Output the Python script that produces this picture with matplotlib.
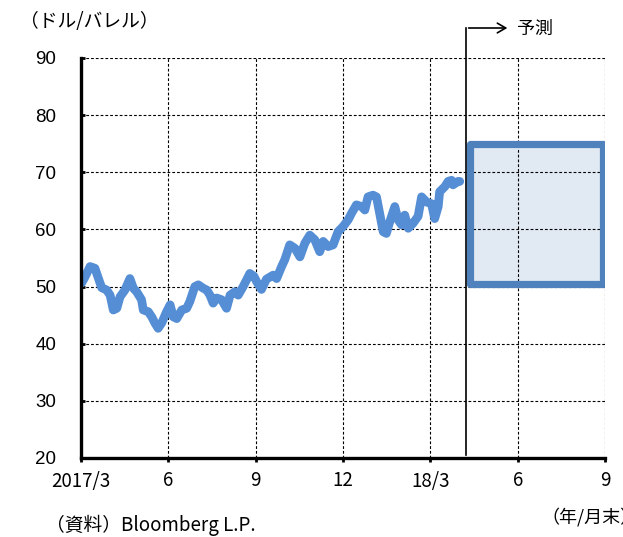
import matplotlib
matplotlib.use("Agg")
import matplotlib.pyplot as plt
from matplotlib.patches import Rectangle, FancyArrowPatch

# months since end of March 2017
months = [0.02, 0.14, 0.31, 0.48, 0.58, 0.71, 0.88, 1.00, 1.11, 1.23, 1.34, 1.51, 1.68, 1.80,
          1.91, 2.08, 2.14, 2.31, 2.43, 2.54, 2.65, 2.77, 2.94, 3.06, 3.17, 3.29, 3.46, 3.63,
          3.74, 3.91, 4.03, 4.20, 4.32, 4.43, 4.54, 4.66, 4.83, 5.00, 5.12, 5.29, 5.40, 5.57,
          5.80, 5.94, 6.04, 6.20, 6.37, 6.60, 6.72, 6.89, 7.00, 7.17, 7.35, 7.52, 7.69, 7.86,
          8.03, 8.20, 8.32, 8.49, 8.66, 8.83, 9.00, 9.18, 9.29, 9.46, 9.64, 9.75, 9.86, 10.03,
          10.15, 10.26, 10.38, 10.49, 10.61, 10.78, 10.89, 11.01, 11.12, 11.24, 11.41, 11.58,
          11.70, 11.87, 12.04, 12.15, 12.27, 12.32, 12.50, 12.61, 12.73, 12.78, 12.95, 13.01]
price = [50.6, 51.7, 53.5, 53.2, 51.7, 49.8, 49.4, 48.5, 45.9, 46.2, 48.2, 49.4, 51.4, 49.7,
         49.1, 47.7, 45.9, 45.6, 44.7, 43.6, 42.7, 43.6, 45.6, 46.8, 44.7, 44.4, 45.9, 46.2,
         47.4, 50.0, 50.3, 49.7, 49.4, 48.5, 47.1, 48.0, 47.7, 46.2, 48.5, 49.1, 48.5, 50.0,
         52.3, 51.8, 50.8, 49.5, 51.3, 52.0, 51.4, 53.5, 54.7, 57.3, 56.7, 55.2, 57.6, 59.0,
         58.2, 56.1, 57.9, 57.0, 57.3, 59.6, 60.5, 61.7, 62.8, 64.3, 64.0, 63.4, 65.7, 66.0,
         65.7, 62.8, 59.6, 59.3, 61.4, 64.0, 61.7, 60.8, 62.5, 60.2, 61.1, 62.3, 65.7, 64.8,
         64.5, 61.9, 64.0, 66.6, 67.5, 68.4, 68.6, 67.8, 68.4, 68.4]

tick_pos = [0, 3, 6, 9, 12, 15, 18]
tick_labels = ["2017/3", "6", "9", "12", "18/3", "6", "9"]
yticks = [20, 30, 40, 50, 60, 70, 80, 90]

forecast_start = 13.22
forecast_box_x = [13.35, 17.92]
forecast_range = [50.5, 75.0]

CJK = ["Noto Sans CJK JP", "DejaVu Sans"]

fig = plt.figure(figsize=(6.23, 5.37), dpi=100)
ax = fig.add_axes([81/623, 1-458/537, (605-81)/623, (458-58)/537])

ax.set_xlim(0, 18)
ax.set_ylim(20, 90)
ax.set_xticks(tick_pos)
ax.set_xticklabels(tick_labels, family=CJK, fontsize=13.5)
ax.set_yticks(yticks)
ax.set_yticklabels([str(v) for v in yticks], family="Liberation Sans", fontsize=13.5)

for v in yticks[1:]:
    ax.axhline(v, color="black", lw=0.8, ls=(0, (2.5, 1.8)), zorder=1)
for m in tick_pos[1:]:
    ax.axvline(m, color="black", lw=0.8, ls=(0, (2.5, 1.8)), zorder=1)

for s in ["top", "right"]:
    ax.spines[s].set_visible(False)
for s in ["left", "bottom"]:
    ax.spines[s].set_linewidth(2.4)
    ax.spines[s].set_zorder(5)
ax.tick_params(axis="y", direction="in", length=3, width=2, pad=18)
ax.tick_params(axis="x", direction="out", length=3, width=2, pad=6)

ax.plot(months, price, color="#558ed5", lw=6.3, solid_capstyle="round",
        solid_joinstyle="round", zorder=3)

rect_fill = Rectangle((forecast_box_x[0], forecast_range[0]),
                      forecast_box_x[1]-forecast_box_x[0], forecast_range[1]-forecast_range[0],
                      facecolor="#dce6f2", edgecolor="none", alpha=0.85, zorder=0.5)
ax.add_patch(rect_fill)
rect = Rectangle((forecast_box_x[0], forecast_range[0]),
                 forecast_box_x[1]-forecast_box_x[0], forecast_range[1]-forecast_range[0],
                 facecolor="none", edgecolor="#4f81bd", lw=5.2, joinstyle="round",
                 zorder=2)
ax.add_patch(rect)

# forecast divider line and arrow
ytop = 95.25
ax.plot([forecast_start, forecast_start], [20.5, ytop], color="black", lw=1.2,
        clip_on=False, zorder=4)
arr = FancyArrowPatch((forecast_start, ytop), (forecast_start + 1.52, ytop),
                      arrowstyle="->,head_length=6,head_width=3.5", color="black", lw=1.2,
                      clip_on=False, mutation_scale=1, zorder=4)
ax.add_patch(arr)
fig.text(517/623, 1-29/537, "予測", family=CJK, fontsize=13, va="center", ha="left")

fig.text(20/623, 1-22/537, "（ドル/バレル）", family=CJK, fontsize=13.5, va="center", ha="left")
fig.text(46/623, 1-525/537, "（資料）Bloomberg L.P.", family=CJK, fontsize=13.5,
         va="center", ha="left")
fig.text(541/623, 1-517/537, "（年/月末）", family=CJK, fontsize=13, va="center", ha="left")

fig.savefig("out.png", dpi=100)
